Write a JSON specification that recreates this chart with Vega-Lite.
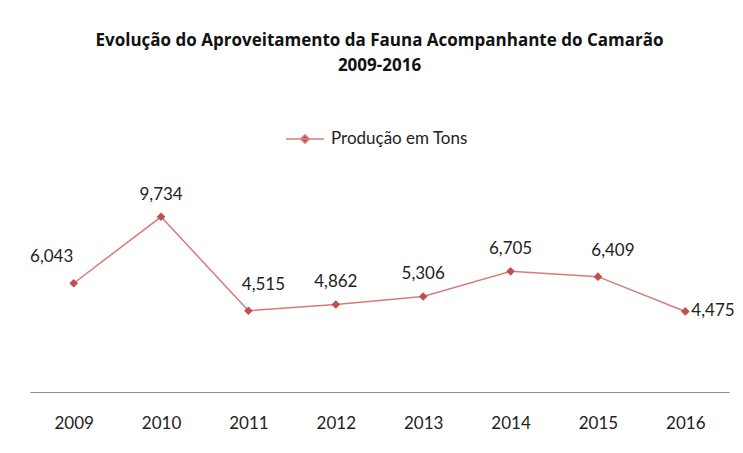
{
  "$schema": "https://vega.github.io/schema/vega-lite/v6.json",
  "width": 699,
  "height": 216,
  "autosize": {"type": "none"},
  "padding": {"left": 30, "top": 176, "right": 14, "bottom": 61},
  "background": "white",
  "title": {
    "text": ["Evolução do Aproveitamento da Fauna Acompanhante do Camarão", "2009-2016"],
    "font": "Open Sans",
    "fontSize": 17,
    "fontWeight": "bold",
    "color": "#111111",
    "anchor": "middle",
    "lineHeight": 25,
    "offset": 44
  },
  "data": {
    "values": [
      {"ano": "2009", "valor": 6043, "serie": "Produção em Tons"},
      {"ano": "2010", "valor": 9734, "serie": "Produção em Tons"},
      {"ano": "2011", "valor": 4515, "serie": "Produção em Tons"},
      {"ano": "2012", "valor": 4862, "serie": "Produção em Tons"},
      {"ano": "2013", "valor": 5306, "serie": "Produção em Tons"},
      {"ano": "2014", "valor": 6705, "serie": "Produção em Tons"},
      {"ano": "2015", "valor": 6409, "serie": "Produção em Tons"},
      {"ano": "2016", "valor": 4475, "serie": "Produção em Tons"}
    ]
  },
  "encoding": {
    "x": {
      "field": "ano",
      "type": "ordinal",
      "scale": {"type": "point", "padding": 0.5},
      "axis": {
        "title": null,
        "labelAngle": 0,
        "ticks": false,
        "domainColor": "#8c8c8c",
        "domainWidth": 1.2,
        "labelFont": "Lato",
        "labelFontSize": 17,
        "labelColor": "#222222",
        "labelPadding": 23,
        "grid": false
      }
    },
    "y": {
      "field": "valor",
      "type": "quantitative",
      "scale": {"domain": [0, 12000]},
      "axis": null
    }
  },
  "layer": [
    {
      "mark": {"type": "line", "color": "#D77B78", "strokeWidth": 1.5}
    },
    {
      "mark": {"type": "point", "shape": "diamond", "filled": true, "size": 75, "opacity": 1},
      "encoding": {
        "color": {
          "field": "serie",
          "type": "nominal",
          "scale": {"range": ["#C0504D"]},
          "legend": {
            "title": null,
            "orient": "none",
            "legendX": 255,
            "legendY": -57,
            "symbolType": "M-1,0H1M-0.22,0L0,-0.22L0.22,0L0,0.22Z",
            "symbolSize": 1444,
            "symbolStrokeColor": "#D77B78",
            "symbolStrokeWidth": 1.5,
            "symbolFillColor": "#C0504D",
            "labelFont": "Lato",
            "labelFontSize": 17,
            "labelColor": "#222222",
            "labelOffset": 6
          }
        }
      }
    },
    {
      "transform": [{"filter": "indexof(['2010','2012','2013','2014'], datum.ano) >= 0"}],
      "mark": {"type": "text", "dy": -22, "font": "Lato", "fontSize": 17, "color": "#222222"},
      "encoding": {"text": {"field": "valor", "type": "quantitative", "format": ","}}
    },
    {
      "transform": [{"filter": "datum.ano == '2009'"}],
      "mark": {"type": "text", "dy": -26, "dx": -22, "font": "Lato", "fontSize": 17, "color": "#222222"},
      "encoding": {"text": {"field": "valor", "type": "quantitative", "format": ","}}
    },
    {
      "transform": [{"filter": "datum.ano == '2011' || datum.ano == '2015'"}],
      "mark": {"type": "text", "dy": -26, "dx": 15, "font": "Lato", "fontSize": 17, "color": "#222222"},
      "encoding": {"text": {"field": "valor", "type": "quantitative", "format": ","}}
    },
    {
      "transform": [{"filter": "datum.ano == '2016'"}],
      "mark": {"type": "text", "dx": 6, "align": "left", "font": "Lato", "fontSize": 17, "color": "#222222"},
      "encoding": {"text": {"field": "valor", "type": "quantitative", "format": ","}}
    }
  ],
  "config": {"view": {"stroke": null}}
}
